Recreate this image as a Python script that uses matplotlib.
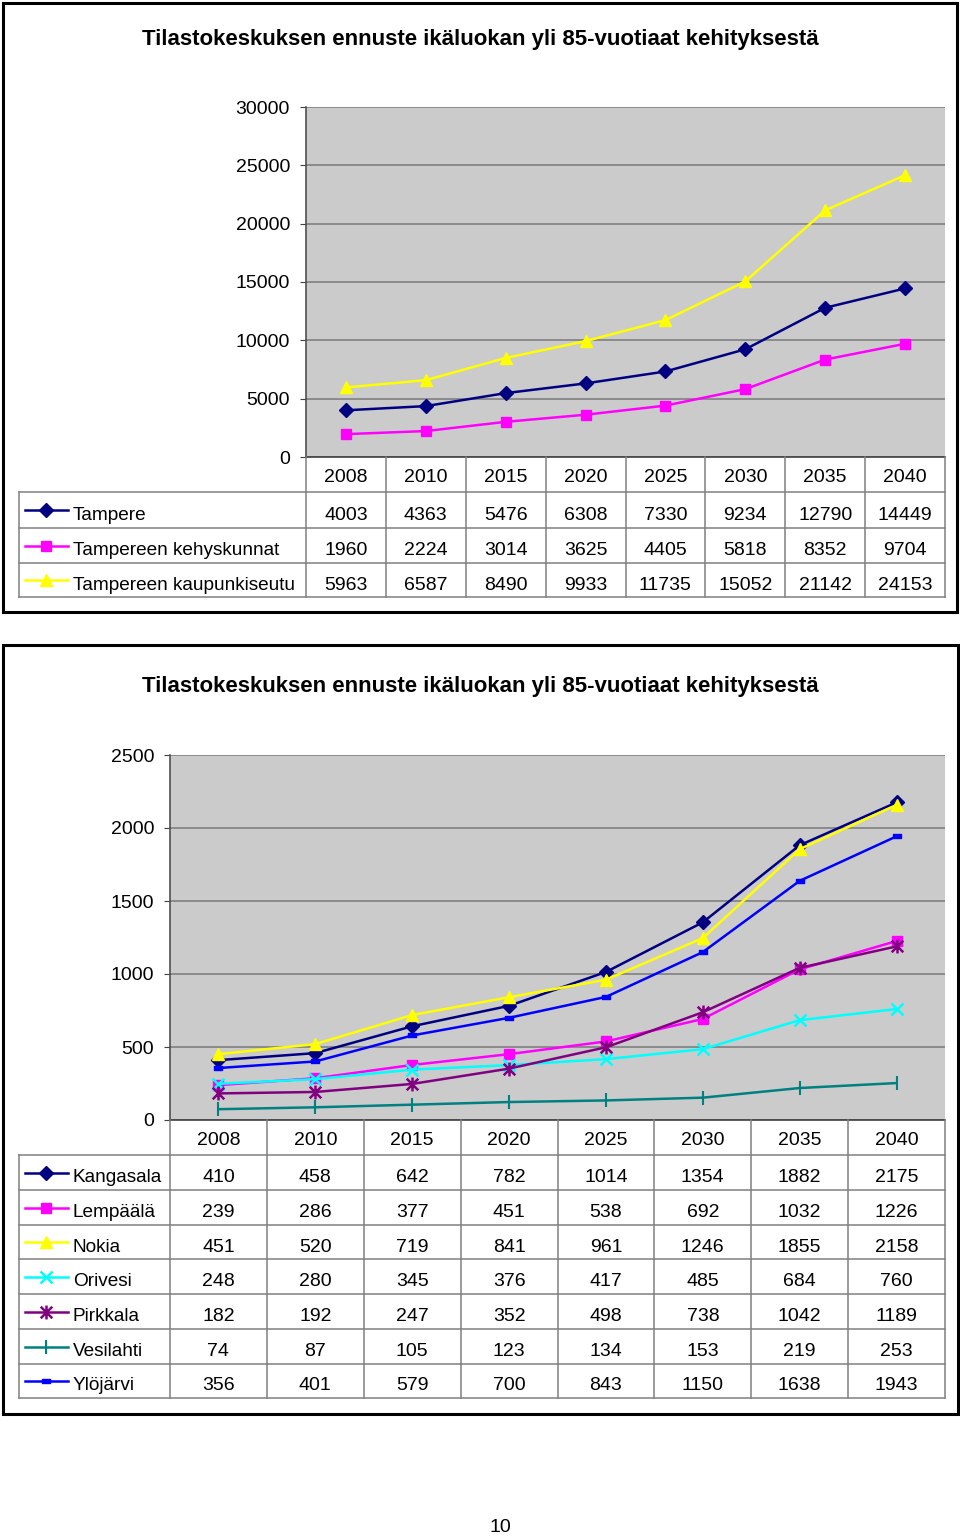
import matplotlib
matplotlib.use('Agg')
import matplotlib.pyplot as plt
from matplotlib.patches import Rectangle
from matplotlib.path import Path

W, H = 960, 1537
plt.rcParams['font.family'] = ['Liberation Sans', 'DejaVu Sans']

title = 'Tilastokeskuksen ennuste ikäluokan yli 85-vuotiaat kehityksestä'
years = ['2008', '2010', '2015', '2020', '2025', '2030', '2035', '2040']

# Chart 1 data
names1 = ['Tampere', 'Tampereen kehyskunnat', 'Tampereen kaupunkiseutu']
tampere = [4003, 4363, 5476, 6308, 7330, 9234, 12790, 14449]
kehyskunnat = [1960, 2224, 3014, 3625, 4405, 5818, 8352, 9704]
kaupunkiseutu = [5963, 6587, 8490, 9933, 11735, 15052, 21142, 24153]
yticks1 = [0, 5000, 10000, 15000, 20000, 25000, 30000]

# Chart 2 data
names2 = ['Kangasala', 'Lempäälä', 'Nokia', 'Orivesi', 'Pirkkala', 'Vesilahti', 'Ylöjärvi']
kangasala = [410, 458, 642, 782, 1014, 1354, 1882, 2175]
lempaala = [239, 286, 377, 451, 538, 692, 1032, 1226]
nokia = [451, 520, 719, 841, 961, 1246, 1855, 2158]
orivesi = [248, 280, 345, 376, 417, 485, 684, 760]
pirkkala = [182, 192, 247, 352, 498, 738, 1042, 1189]
vesilahti = [74, 87, 105, 123, 134, 153, 219, 253]
ylojarvi = [356, 401, 579, 700, 843, 1150, 1638, 1943]
yticks2 = [0, 500, 1000, 1500, 2000, 2500]

# Excel-like star marker (x plus vertical bar)
star_path = Path([(-1, -1), (1, 1), (-1, 1), (1, -1), (0, -1.2), (0, 1.2)],
                 [Path.MOVETO, Path.LINETO, Path.MOVETO, Path.LINETO, Path.MOVETO, Path.LINETO])
dash_path = Path([(-1, -0.5), (1, -0.5), (1, 0.5), (-1, 0.5), (-1, -0.5)],
                 [Path.MOVETO, Path.LINETO, Path.LINETO, Path.LINETO, Path.CLOSEPOLY])

styles1 = [
    dict(color='#000080', marker='D', ms=7),
    dict(color='#FF00FF', marker='s', ms=7),
    dict(color='#FFFF00', marker='^', ms=9),
]
styles2 = [
    dict(color='#000080', marker='D', ms=7),
    dict(color='#FF00FF', marker='s', ms=7),
    dict(color='#FFFF00', marker='^', ms=9),
    dict(color='#00FFFF', marker='x', ms=8, mew=1.8),
    dict(color='#800080', marker=star_path, ms=10, mew=1.8),
    dict(color='#008080', marker='|', ms=10, mew=1.5),
    dict(color='#0000FF', marker=dash_path, ms=6),
]

fig = plt.figure(figsize=(W / 100, H / 100), dpi=100)

FS = 14
FS_NAME = 13.7
GRAY = '#808080'


def axrect(l, t, r, b):
    return [l / W, 1 - b / H, (r - l) / W, (b - t) / H]


def chart(box, title_y, l, t, r, b, yticks, names, data, styles, row_bounds, leg_left):
    bx0, by0, bx1, by1 = box
    fig.add_artist(Rectangle((bx0 / W, 1 - by1 / H), (bx1 - bx0) / W, (by1 - by0) / H,
                             transform=fig.transFigure, fill=False, ec='black', lw=2.2))
    fig.text(480 / W, 1 - title_y / H, title, ha='center', va='center',
             fontsize=16, fontweight='bold')

    ax = fig.add_axes(axrect(l, t, r, b))
    ax.set_facecolor('#CBCBCB')
    ax.set_xlim(-0.5, 7.5)
    ax.set_ylim(yticks[0], yticks[-1])
    ax.set_yticks(yticks)
    ax.set_yticklabels([str(v) for v in yticks], fontsize=FS)
    ax.tick_params(axis='y', length=6 * 0.72, pad=10 * 0.72, color='#404040')
    ax.set_xticks([])
    ax.grid(axis='y', color=GRAY, lw=1.2)
    ax.set_axisbelow(True)
    for s in ['top', 'right']:
        ax.spines[s].set_visible(False)
    ax.spines['left'].set_color('#505050')
    ax.spines['bottom'].set_color('#404040')
    ax.spines['left'].set_linewidth(1.2)
    ax.spines['bottom'].set_linewidth(1.2)
    xs = list(range(len(years)))
    for vals, st in zip(data, styles):
        st = dict(st)
        ax.plot(xs, vals, color=st.pop('color'), lw=1.8, clip_on=False, **st, zorder=3)

    tb = row_bounds[-1]
    tax = fig.add_axes(axrect(l, b, r, tb))
    tax.set_xlim(-0.5, 7.5)
    tax.set_ylim(tb, b)
    tax.axis('off')
    colw = (r - l) / 8.0
    lx = -0.5 - (l - leg_left) / colw

    def px2x(p):
        return lx + (p - leg_left) / colw

    # header
    hy = (b + row_bounds[0]) / 2 + 3
    for i, yr in enumerate(years):
        tax.text(i, hy, yr, ha='center', va='center', fontsize=FS)
    for i in range(9):
        tax.plot([i - 0.5, i - 0.5], [b, tb], color=GRAY, lw=1.1, clip_on=False)
    for yb in row_bounds:
        tax.plot([lx, 7.5], [yb, yb], color=GRAY, lw=1.1, clip_on=False)
    tax.plot([lx, lx], [row_bounds[0], tb], color=GRAY, lw=1.1, clip_on=False)

    for k, (nm, vals, st) in enumerate(zip(names, data, styles)):
        yc = (row_bounds[k] + row_bounds[k + 1]) / 2
        st = dict(st)
        c = st.pop('color')
        tax.plot([px2x(leg_left + 6), px2x(leg_left + 49)], [yc, yc], color=c, lw=1.8, clip_on=False)
        tax.plot([px2x(leg_left + 27)], [yc], color=c, clip_on=False, **st)
        tax.text(px2x(leg_left + 54), yc + 5, nm, ha='left', va='center', fontsize=FS_NAME)
        for i, v in enumerate(vals):
            tax.text(i, yc + 5, str(v), ha='center', va='center', fontsize=FS)


chart((3, 3, 957, 612), 40, 306, 107, 945, 457, yticks1, names1,
      [tampere, kehyskunnat, kaupunkiseutu], styles1,
      [492, 528, 563, 597], 19)

chart((3, 645, 958, 1414), 686, 170, 755, 945, 1120, yticks2, names2,
      [kangasala, lempaala, nokia, orivesi, pirkkala, vesilahti, ylojarvi], styles2,
      [1155, 1190, 1225, 1259, 1294, 1329, 1364, 1398], 19)

fig.text(500 / W, 1 - 1527 / H, '10', ha='center', va='center', fontsize=14)

fig.savefig('out.png', dpi=100)
